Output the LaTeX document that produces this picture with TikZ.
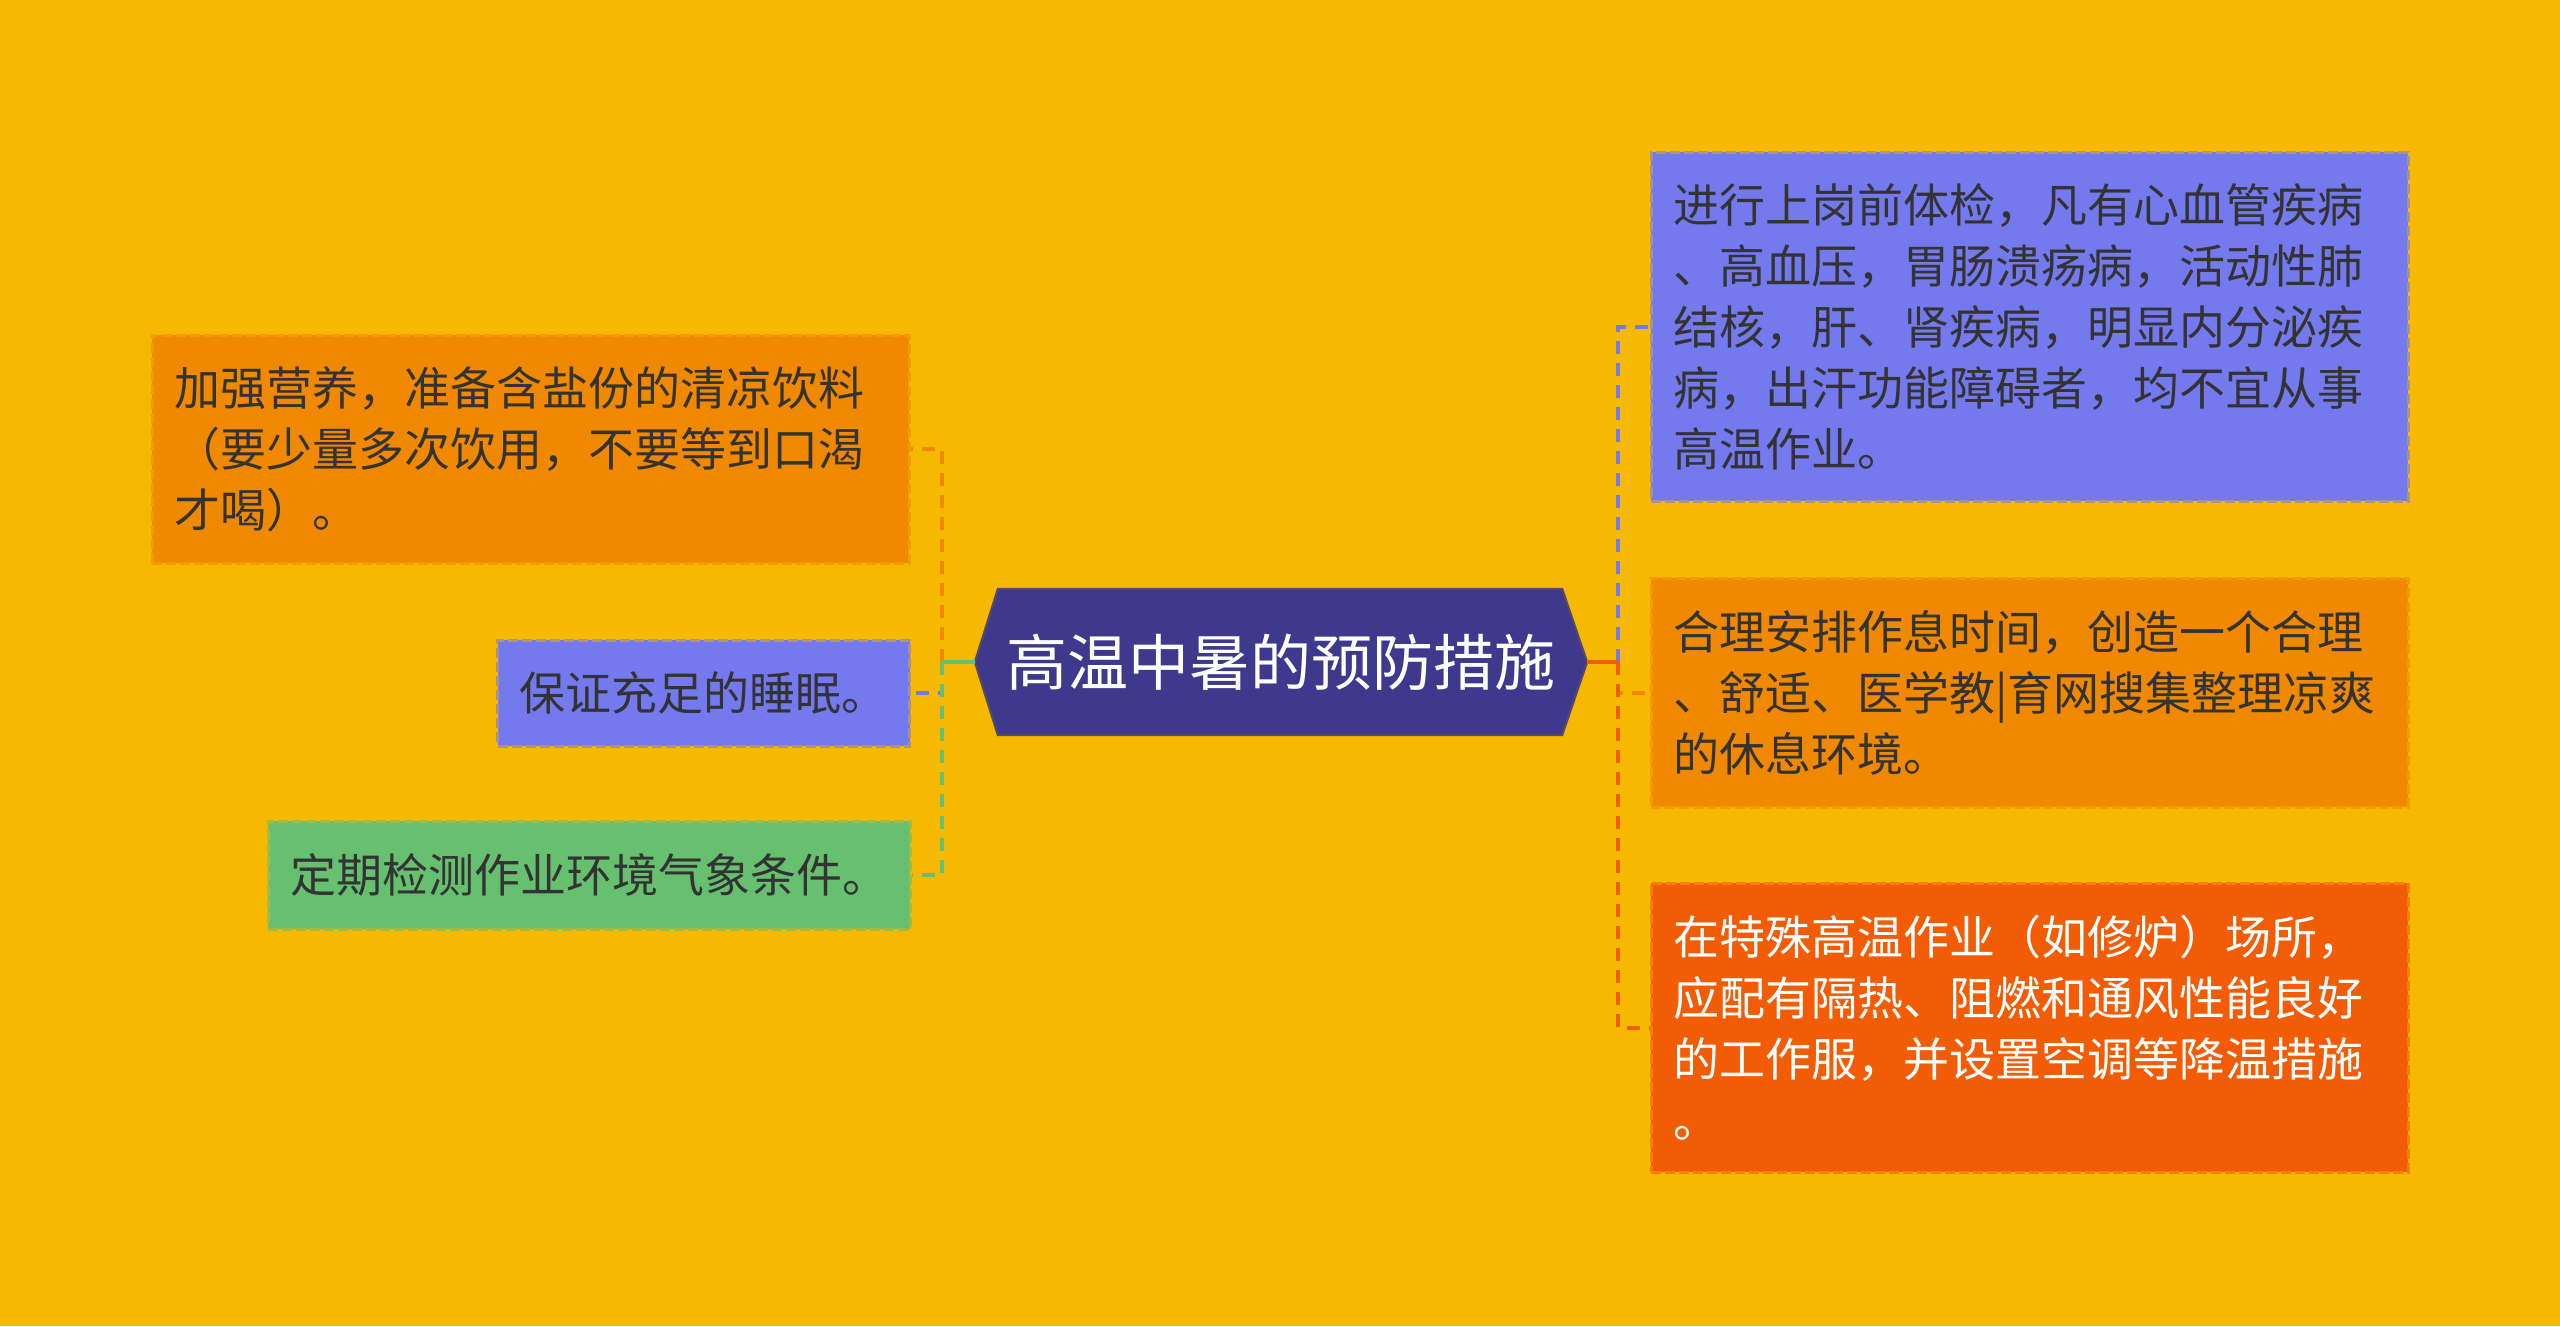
\documentclass[tikz,border=0pt]{standalone}
\usepackage{fontspec}
\newfontfamily\cjk{Noto Sans CJK SC}
\definecolor{bg}{RGB}{247,185,0}
\definecolor{orangebox}{RGB}{240,136,0}
\definecolor{bluebox}{RGB}{117,121,238}
\definecolor{greenbox}{RGB}{102,192,112}
\definecolor{redbox}{RGB}{242,92,5}
\definecolor{rootbox}{RGB}{62,57,140}
\definecolor{rootedge}{RGB}{85,75,100}
\definecolor{darktext}{RGB}{51,51,51}
\tikzset{
  leaf/.style={draw=#1!60!bg, fill=#1, line width=3pt, dash pattern=on 10pt off 4pt,
    inner xsep=22pt, inner ysep=0pt, text=darktext, align=left,
    font=\cjk\fontsize{46}{61}\selectfont},
  wide/.style={text width=713pt},
  link/.style={draw=#1, line width=4pt, dash pattern=on 13pt off 9pt},
  trunk/.style={draw=#1, line width=4pt}
}
\begin{document}
\begin{tikzpicture}[x=1pt,y=-1pt]
\useasboundingbox (0,0) rectangle (2560,1326);
\fill[bg] (0,0) rectangle (2560,1326);
\node[minimum width=612pt, minimum height=146pt, inner sep=0pt] (root) at (1281,662) {};
\filldraw[fill=rootbox, draw=rootedge, line width=2pt] (root.west) -- ([xshift=23pt]root.north west)
  -- ([xshift=-25pt]root.north east) -- (root.east) -- ([xshift=-25pt]root.south east)
  -- ([xshift=23pt]root.south west) -- cycle;
\node[text=white, font=\cjk\fontsize{61}{61}\selectfont] (title) at (root) {高温中暑的预防措施};
\node[leaf=orangebox, wide, minimum height=228pt] (lnut) at (530.5,449)
  {加强营养，准备含盐份的清凉饮料\\（要少量多次饮用，不要等到口渴\\才喝）。};
\node[leaf=bluebox, minimum width=411pt, minimum height=106pt] (lsleep) at (703.5,693) {保证充足的睡眠。};
\node[leaf=greenbox, minimum width=640pt, minimum height=108pt] (lcheck) at (589,875) {定期检测作业环境气象条件。};
\node[leaf=bluebox, wide, minimum height=349pt] (rexam) at (2029.5,326.5)
  {进行上岗前体检，凡有心血管疾病\\、高血压，胃肠溃疡病，活动性肺\\结核，肝、肾疾病，明显内分泌疾\\病，出汗功能障碍者，均不宜从事\\高温作业。};
\node[leaf=orangebox, wide, minimum height=229pt] (rrest) at (2029.5,692.5)
  {合理安排作息时间，创造一个合理\\、舒适、医学教|育网搜集整理凉爽\\的休息环境。};
\node[leaf=redbox, wide, minimum height=289pt, text=white] (rcloth) at (2029.5,1027.5)
  {在特殊高温作业（如修炉）场所，\\应配有隔热、阻燃和通风性能良好\\的工作服，并设置空调等降温措施\\。};
\coordinate (ljoin) at (942,662);
\coordinate (rjoin) at (1618,662);
\draw[link=orangebox] (ljoin) |- (lnut.east);
\draw[link=bluebox] (ljoin) |- (lsleep.east);
\draw[link=greenbox] (ljoin) |- (lcheck.east);
\draw[trunk=greenbox] (root.west) -- (ljoin);
\draw[link=bluebox] (rjoin) |- (rexam.west);
\draw[link=orangebox] (rjoin) |- (rrest.west);
\draw[link=redbox] (rjoin) |- (rcloth.west);
\draw[trunk=redbox] (root.east) -- (rjoin);
\end{tikzpicture}
\end{document}
